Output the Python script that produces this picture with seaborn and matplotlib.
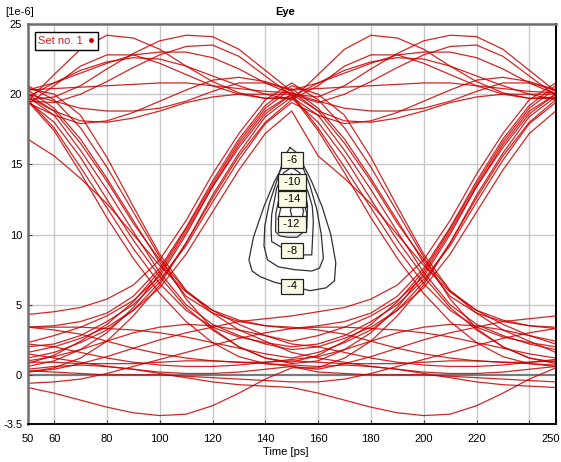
import pandas as pd
import matplotlib
matplotlib.use("Agg")
import matplotlib.pyplot as plt
import matplotlib.transforms as mtransforms
import seaborn as sns
from matplotlib.lines import Line2D

# sample times of one full trace (ps) and of one 100 ps half
time_ps = [50, 60, 70, 80, 90, 100, 110, 120, 130, 140, 150,
           160, 170, 180, 190, 200, 210, 220, 230, 240, 250]

# half-trace shapes (1e-6), values at 50,60,...,150 ps
hi_arch_a = [19.5, 21.4, 23.2, 24.2, 24.0, 23.2, 22.0, 20.9, 20.1, 19.7, 19.8]
hi_arch_b = [19.6, 19.8, 20.6, 21.8, 22.9, 23.8, 24.2, 24.1, 23.2, 21.7, 20.2]
hi_arch_c = [19.5, 19.4, 20.0, 20.9, 21.9, 22.8, 23.4, 23.5, 22.7, 21.3, 19.9]
hi_arch_d = [20.3, 20.8, 21.5, 22.2, 22.8, 23.0, 23.0, 22.6, 21.8, 20.8, 20.0]
hi_flat = [20.3, 20.4, 20.5, 20.6, 20.7, 20.8, 20.8, 20.6, 20.4, 20.2, 20.1]
hi_sag_a = [19.8, 18.8, 18.1, 18.0, 18.3, 18.8, 19.4, 19.8, 20.0, 20.0, 20.0]
hi_sag_b = [20.0, 19.5, 19.0, 18.8, 18.8, 19.0, 19.5, 20.2, 20.8, 20.8, 20.3]
hi_hump = [19.8, 20.8, 21.7, 22.3, 22.6, 22.5, 22.0, 21.3, 20.6, 20.0, 19.6]
hi_early = [19.3, 20.6, 22.0, 22.8, 22.8, 22.2, 21.4, 20.6, 20.0, 19.7, 19.7]
hi_sag_c = [19.4, 18.5, 17.9, 18.1, 18.7, 19.5, 20.3, 21.0, 21.2, 20.9, 20.3]

fall_a = [19.8, 18.5, 16.0, 13.2, 10.2, 7.3, 5.0, 3.6, 2.8, 2.2, 1.8]
fall_b = [19.6, 17.6, 14.8, 11.9, 9.0, 6.5, 4.6, 3.4, 2.7, 2.3, 2.0]
fall_c = [20.3, 19.0, 16.8, 14.0, 11.0, 8.0, 5.6, 4.4, 3.8, 3.5, 3.4]
fall_d = [19.5, 17.4, 14.4, 11.2, 8.3, 5.8, 3.8, 2.3, 1.3, 0.8, 0.6]
fall_e = [16.8, 15.6, 14.0, 12.2, 10.0, 7.8, 5.9, 4.6, 3.9, 3.5, 3.3]
fall_f = [19.5, 18.0, 15.5, 12.5, 9.6, 7.0, 4.8, 3.2, 2.0, 1.2, 0.8]
fall_g = [20.0, 18.8, 16.5, 13.8, 10.8, 8.2, 6.0, 4.6, 3.6, 2.8, 2.2]
fall_h = [20.4, 20.0, 18.5, 15.5, 12.0, 8.6, 6.0, 4.4, 3.2, 2.4, 1.6]
fall_i = [20.6, 19.6, 17.6, 14.8, 11.6, 8.4, 5.4, 3.3, 2.0, 1.2, 0.9]

rise_a = [2.3, 2.8, 3.4, 4.2, 5.3, 7.0, 10.0, 13.4, 16.2, 18.6, 20.0]
rise_b = [0.8, 1.4, 2.4, 3.6, 5.2, 7.4, 10.4, 13.6, 16.6, 19.0, 20.4]
rise_c = [3.4, 3.5, 3.8, 4.4, 5.6, 7.6, 10.5, 13.8, 16.8, 19.2, 20.6]
rise_d = [1.2, 1.6, 2.3, 3.2, 4.6, 6.6, 9.4, 12.6, 15.6, 18.0, 19.6]
rise_e = [0.2, 0.5, 1.2, 2.4, 4.2, 6.4, 9.4, 12.8, 15.8, 18.4, 19.8]
rise_f = [4.3, 4.5, 4.8, 5.4, 6.4, 8.2, 11.0, 14.3, 17.2, 19.6, 20.8]
rise_g = [2.0, 2.2, 2.8, 3.8, 5.0, 6.8, 9.2, 12.3, 15.3, 17.9, 19.4]
rise_h = [0.6, 1.0, 1.8, 3.0, 4.8, 7.2, 10.2, 13.4, 16.4, 18.8, 20.0]
rise_slow = [1.6, 2.0, 2.6, 3.4, 4.6, 6.2, 8.6, 11.6, 14.6, 17.2, 18.8]

lo_dip = [-0.9, -1.3, -1.8, -2.3, -2.7, -2.9, -2.8, -2.2, -1.3, -0.3, 0.5]
lo_zero = [0.3, 0.2, 0.1, 0.0, 0.0, 0.0, -0.1, -0.2, -0.3, -0.4, -0.5]
lo_one = [0.9, 0.9, 0.8, 0.8, 0.8, 0.9, 1.0, 1.0, 0.9, 0.8, 0.7]
lo_decay = [3.4, 3.4, 3.4, 3.3, 3.2, 3.0, 2.7, 2.3, 1.9, 1.5, 1.2]
lo_climb = [-0.6, -0.5, -0.3, 0.1, 0.6, 1.1, 1.6, 2.1, 2.6, 3.0, 3.3]
lo_sink = [2.2, 2.0, 1.6, 1.2, 0.9, 0.7, 0.6, 0.6, 0.7, 0.9, 1.1]
lo_bump = [1.0, 1.3, 1.8, 2.4, 3.0, 3.4, 3.6, 3.5, 3.2, 2.8, 2.4]
lo_low = [1.5, 1.2, 0.9, 0.6, 0.4, 0.2, 0.1, 0.1, 0.2, 0.4, 0.6]
lo_fade = [3.4, 3.2, 2.9, 2.4, 1.9, 1.5, 1.2, 1.0, 0.9, 0.9, 1.0]
lo_drop = [0.4, 0.6, 0.7, 0.6, 0.4, 0.1, -0.2, -0.5, -0.7, -0.8, -0.9]
lo_rise2 = [0.2, 0.4, 0.8, 1.3, 1.9, 2.5, 3.0, 3.4, 3.8, 4.0, 4.2]

# each trace = first half (50-150 ps) followed by second half (150-250 ps)
trace_pairs = [
    (rise_slow, fall_e), (rise_g, hi_sag_c), (hi_hump, hi_early),
    (rise_d, hi_arch_a), (hi_early, fall_f), (hi_arch_a, hi_hump),
    (rise_e, fall_a), (hi_arch_c, fall_d), (hi_arch_d, hi_arch_c),
    (hi_sag_a, fall_b), (rise_a, hi_arch_b), (rise_h, hi_sag_a),
    (hi_flat, hi_sag_b), (hi_arch_b, fall_g), (hi_sag_b, hi_arch_d),
    (hi_sag_c, hi_flat), (rise_b, fall_c), (rise_c, fall_h),
    (rise_f, fall_i),
    (lo_drop, lo_dip), (lo_zero, lo_climb), (lo_dip, rise_e),
    (fall_d, lo_rise2), (lo_low, lo_zero), (lo_one, lo_drop),
    (fall_f, rise_h), (fall_i, rise_b), (lo_fade, lo_one),
    (lo_sink, lo_bump), (lo_decay, rise_d), (fall_h, lo_low),
    (fall_a, rise_slow), (fall_b, rise_g), (fall_g, lo_sink),
    (lo_bump, rise_a), (lo_climb, rise_c), (fall_e, lo_decay),
    (fall_c, lo_fade), (lo_rise2, rise_f),
]

# BER contours (log10), closed outlines
contour_levels = [-4, -6, -8, -10, -12, -14]
contour_x = [
    [150.0, 153.5, 157.5, 161.5, 164.8, 166.7, 166.2, 163.0, 157.0, 150.0,
     143.5, 138.0, 135.0, 133.8, 135.5, 139.5, 143.5, 147.0, 150.0],
    [149.4, 151.5, 154.0, 156.9, 159.5, 161.2, 162.0, 160.5, 157.6, 151.0,
     144.9, 140.8, 139.5, 139.8, 141.5, 144.5, 147.3, 149.4],
    [150.0, 153.0, 156.3, 157.8, 158.2, 157.6, 154.0, 150.0, 146.0, 142.4,
     142.2, 142.4, 144.3, 147.0, 150.0],
    [150.0, 152.5, 155.0, 156.0, 155.7, 152.0, 148.7, 145.5, 143.9, 144.0,
     145.5, 147.8, 150.0],
    [150.0, 153.0, 155.0, 155.7, 155.0, 151.0, 147.5, 145.5, 144.9, 146.0,
     148.0, 150.0],
    [151.5, 153.5, 154.5, 154.0, 152.0, 150.2, 149.5, 150.0, 151.5],
]
contour_y = [
    [15.7, 15.3, 13.8, 12.0, 10.0, 8.0, 6.7, 6.2, 6.0, 6.3,
     6.6, 7.0, 7.4, 8.2, 9.8, 12.0, 13.8, 15.0, 15.7],
    [16.2, 15.9, 14.9, 13.5, 11.8, 10.0, 8.3, 7.6, 7.4, 7.5,
     7.7, 8.2, 9.2, 10.6, 12.2, 13.9, 15.6, 16.2],
    [14.8, 14.4, 13.0, 12.0, 10.9, 8.55, 8.55, 8.86, 9.1, 9.5,
     10.4, 11.4, 13.3, 14.4, 14.8],
    [14.3, 14.0, 13.0, 12.1, 10.4, 9.8, 9.8, 9.9, 10.2, 11.5,
     12.8, 13.9, 14.3],
    [12.9, 12.6, 12.0, 11.5, 10.3, 10.2, 10.2, 10.5, 11.1, 12.0,
     12.7, 12.9],
    [12.4, 12.2, 11.7, 11.2, 11.0, 11.2, 11.7, 12.1, 12.4],
]
label_x = [150.1, 150.0, 150.0, 150.0, 150.0, 150.0]
label_y = [6.3, 15.3, 8.86, 13.74, 10.76, 12.55]

x_ticks = [50, 60, 80, 100, 120, 140, 160, 180, 200, 220, 240, 250]
x_ticklabels = ['50', '60', '80', '100', '120', '140', '160', '180', '200', '220', '', '250']
y_ticks = [-3.5, 0, 5, 10, 15, 20, 25]
y_ticklabels = ['-3.5', '0', '5', '10', '15', '20', '25']

plt.rcParams['font.family'] = ['Liberation Sans', 'DejaVu Sans']

trace_frames = []
for k, (first, second) in enumerate(trace_pairs):
    trace_frames.append(pd.DataFrame({'time': time_ps, 'level': first + second[1:], 'trace': k}))
traces = pd.concat(trace_frames, ignore_index=True)

contour_frames = []
for lev, xs, ys in zip(contour_levels, contour_x, contour_y):
    contour_frames.append(pd.DataFrame({'time': xs, 'level': ys, 'ber': lev}))
contours = pd.concat(contour_frames, ignore_index=True)

fig = plt.figure(figsize=(5.61, 4.62), dpi=100)
ax = fig.add_axes([27.7 / 561, 1 - 424 / 462, 528 / 561, 400 / 462])

# grid
for xv in x_ticks[1:-1]:
    ax.axvline(xv, color='#c8c8c8', lw=1, zorder=0)
for yv in y_ticks[2:-1]:
    ax.axhline(yv, color='#c8c8c8', lw=1, zorder=0)
ax.axhline(0, color='#7a7a7a', lw=1.6, zorder=0)

sns.lineplot(data=traces, x='time', y='level', units='trace', estimator=None,
             color='#cc0000', linewidth=0.9, alpha=0.85, legend=False, ax=ax)
sns.lineplot(data=contours, x='time', y='level', units='ber', estimator=None,
             sort=False, color='#303030', linewidth=0.9, legend=False, ax=ax)

for lev, lx, ly in zip(contour_levels, label_x, label_y):
    ax.text(lx, ly, f' {lev} ', ha='center', va='center', fontsize=8, zorder=5,
            bbox=dict(boxstyle='square,pad=0.25', facecolor='#fbfbe4',
                      edgecolor='#202020', linewidth=0.9))

ax.set_xlim(50, 250)
ax.set_ylim(-3.5, 25)
ax.set_xticks(x_ticks)
ax.set_xticklabels(x_ticklabels, fontsize=8)
ax.set_yticks(y_ticks)
ax.set_yticklabels(y_ticklabels, fontsize=8)
ax.tick_params(axis='x', direction='in', length=3, pad=7, color='#404040')
ax.tick_params(axis='y', direction='in', length=3, pad=4, color='#404040')
ax.set_xlabel('')
ax.set_ylabel('')

# keep the last x label inside the figure
last = ax.get_xticklabels()[-1]
last.set_horizontalalignment('right')
last.set_transform(last.get_transform() + mtransforms.ScaledTranslation(4 / 100, 0, fig.dpi_scale_trans))

ax.spines['top'].set_color('#6e6e6e')
ax.spines['left'].set_color('#6e6e6e')
ax.spines['top'].set_linewidth(1.8)
ax.spines['left'].set_linewidth(1.8)
ax.spines['right'].set_color('black')
ax.spines['bottom'].set_color('black')
ax.spines['right'].set_linewidth(1.4)
ax.spines['bottom'].set_linewidth(1.4)

handle = Line2D([], [], marker='o', linestyle='', color='#cc0000', markersize=2.5)
leg = ax.legend([handle], ['Set no. 1'], loc='upper left', bbox_to_anchor=(0.013, 0.98),
                markerfirst=False, fancybox=False, framealpha=1, edgecolor='black',
                fontsize=8, handlelength=0.6, handletextpad=0.4, borderpad=0.35,
                labelcolor='#cc2222', borderaxespad=0)
leg.get_frame().set_linewidth(1)

fig.text(5 / 561, 1 - 12 / 462, '[1e-6]', fontsize=8, va='center', ha='left')
fig.text(285 / 561, 1 - 12 / 462, 'Eye', fontsize=8, fontweight='bold', va='center', ha='center')
fig.text(286 / 561, 1 - 452 / 462, 'Time [ps]', fontsize=8, va='center', ha='center')

fig.savefig('out.png', dpi=100)
